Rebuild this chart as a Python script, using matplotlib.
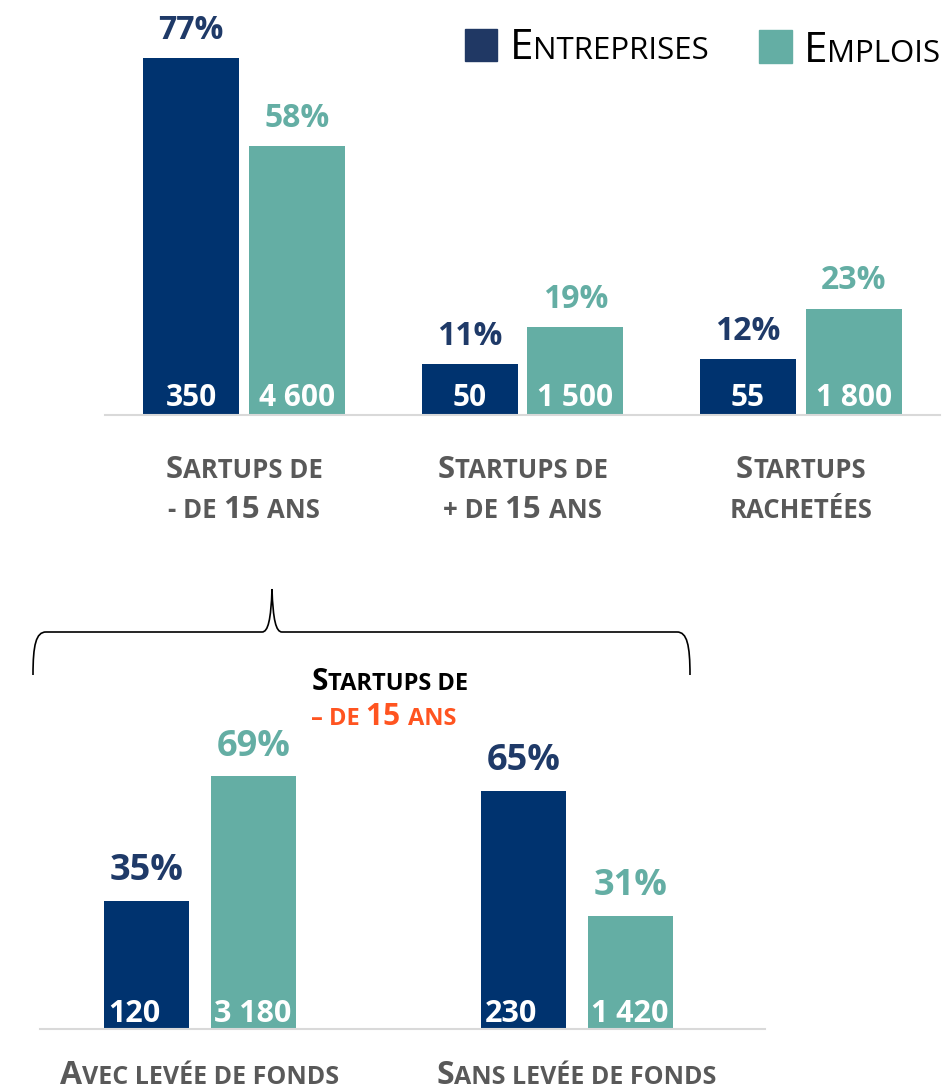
import matplotlib.pyplot as plt
from matplotlib.patches import Rectangle, PathPatch
from matplotlib.path import Path
from matplotlib.transforms import IdentityTransform

# data
top_groups = [["Sartups de", "- de 15 ans"], ["Startups de", "+ de 15 ans"], ["Startups", "rachetées"]]
top_pct_entreprises = [77, 11, 12]
top_pct_emplois = [58, 19, 23]
top_nb_entreprises = ["350", "50", "55"]
top_nb_emplois = ["4 600", "1 500", "1 800"]

bottom_groups = ["Avec levée de fonds", "Sans levée de fonds"]
bottom_pct_entreprises = [35, 65]
bottom_pct_emplois = [69, 31]
bottom_nb_entreprises = ["120", "230"]
bottom_nb_emplois = ["3 180", "1 420"]

series_names = ["Entreprises", "Emplois"]

NAVY = "#00336F"
NAVY_TXT = "#1F3A68"
TEAL = "#64AEA4"
GREY = "#595959"
ORANGE = "#FF5420"
FONT = "Open Sans"

W, H = 944, 1090
fig = plt.figure(figsize=(W / 100, H / 100), dpi=100)
renderer = fig.canvas.get_renderer()


def px_axes(left, top, right, bottom):
    return fig.add_axes([left / W, 1 - bottom / H, (right - left) / W, (bottom - top) / H])


def text_width(s, size, **kw):
    t1 = fig.text(0, 0, "H" + s + "H", fontsize=size, **kw)
    t2 = fig.text(0, 0, "HH", fontsize=size, **kw)
    w = t1.get_window_extent(renderer).width - t2.get_window_extent(renderer).width
    t1.remove()
    t2.remove()
    return w


def smallcaps(x, y, text, big, small, ha="center", **kw):
    # x in pixels, y = baseline in pixels from top
    runs = []
    for ch in text:
        if ch.islower():
            size, c = small, ch.upper()
        elif ch.isupper() or ch.isdigit():
            size, c = big, ch
        elif ch == " ":
            size, c = (runs[-1][1] if runs else small), ch
        else:
            size, c = small, ch
        if runs and runs[-1][1] == size:
            runs[-1][0] += c
        else:
            runs.append([c, size])
    widths = [text_width(s, size, **kw) for s, size in runs]
    x0 = x - sum(widths) / 2 if ha == "center" else x
    for (s, size), w in zip(runs, widths):
        fig.text(x0, H - y, s, fontsize=size, transform=IdentityTransform(),
                 ha="left", va="baseline", **kw)
        x0 += w


def style_axes(ax):
    for side in ["top", "left", "right"]:
        ax.spines[side].set_visible(False)
    ax.spines["bottom"].set_color("#D9D9D9")
    ax.spines["bottom"].set_linewidth(1.5)
    ax.set_xticks([])
    ax.set_yticks([])
    ax.patch.set_alpha(0)


# ---- top chart ----
ax1 = px_axes(105, 0, 940, 415)
style_axes(ax1)
ax1.set_xlim(-0.5, 2.5)
ax1.set_ylim(0, 415 / 4.63)
bw, off = 0.345, 0.19
for i in range(len(top_groups)):
    ax1.bar(i - off, top_pct_entreprises[i], bw, color=NAVY)
    ax1.bar(i + off, top_pct_emplois[i], bw, color=TEAL)
    ax1.annotate(f"{top_pct_entreprises[i]}%", (i - off, top_pct_entreprises[i]),
                 xytext=(0, 14), textcoords="offset points", ha="center", va="baseline",
                 fontsize=23, fontweight="bold", color=NAVY_TXT, family=FONT)
    ax1.annotate(f"{top_pct_emplois[i]}%", (i + off, top_pct_emplois[i]),
                 xytext=(0, 14), textcoords="offset points", ha="center", va="baseline",
                 fontsize=23, fontweight="bold", color=TEAL, family=FONT)
    ax1.annotate(top_nb_entreprises[i], (i - off, 0), xytext=(0, 6.5),
                 textcoords="offset points", ha="center", va="baseline",
                 fontsize=21.5, fontweight="bold", color="white", family=FONT)
    ax1.annotate(top_nb_emplois[i], (i + off, 0), xytext=(0, 6.5),
                 textcoords="offset points", ha="center", va="baseline",
                 fontsize=21.5, fontweight="bold", color="white", family=FONT)
    cx = ax1.transData.transform((i, 0))[0]
    smallcaps(cx, 478, top_groups[i][0], 22.5, 18.5, color=GREY, fontweight="bold", family=FONT)
    smallcaps(cx, 518, top_groups[i][1], 22.5, 18.5, color=GREY, fontweight="bold", family=FONT)

# legend
fig.add_artist(Rectangle((465, H - 61), 32, 32, color="#203864", transform=IdentityTransform()))
fig.add_artist(Rectangle((759, H - 63), 33, 33, color=TEAL, transform=IdentityTransform()))
smallcaps(510, 59, series_names[0], 30.5, 22.5, ha="left", color="black", family=FONT)
smallcaps(804, 62, series_names[1], 30.5, 22.5, ha="left", color="black", family=FONT)

# brace
verts = [(33, 675), (33, 645), (36, 632), (46, 632),
         (262, 632), (268, 632), (271, 620), (272, 589),
         (273, 620), (276, 632), (282, 632),
         (677, 632), (687, 632), (690, 645), (690, 675)]
codes = [Path.MOVETO, Path.CURVE4, Path.CURVE4, Path.CURVE4,
         Path.LINETO, Path.CURVE4, Path.CURVE4, Path.CURVE4,
         Path.CURVE4, Path.CURVE4, Path.CURVE4,
         Path.LINETO, Path.CURVE4, Path.CURVE4, Path.CURVE4]
verts = [(x, H - y) for x, y in verts]
fig.add_artist(PathPatch(Path(verts, codes), fill=False, lw=1.2, color="black",
                         transform=IdentityTransform()))
smallcaps(390, 690, "Startups de", 21.5, 17, color="black", fontweight="bold", family=FONT)
smallcaps(384, 725, "– de 15 ans", 21.5, 17, color=ORANGE, fontweight="bold", family=FONT)

# ---- bottom chart ----
ax2 = px_axes(40, 720, 765, 1029)
style_axes(ax2)
ax2.set_xlim(-0.424, 1.499)
ax2.set_ylim(0, 309 / 3.66)
bw2, off2 = 0.225, 0.142
for i in range(len(bottom_groups)):
    ax2.bar(i - off2, bottom_pct_entreprises[i], bw2, color=NAVY)
    ax2.bar(i + off2, bottom_pct_emplois[i], bw2, color=TEAL)
    ax2.annotate(f"{bottom_pct_entreprises[i]}%", (i - off2, bottom_pct_entreprises[i]),
                 xytext=(0, 15), textcoords="offset points", ha="center", va="baseline",
                 fontsize=26, fontweight="bold", color=NAVY_TXT, family=FONT)
    ax2.annotate(f"{bottom_pct_emplois[i]}%", (i + off2, bottom_pct_emplois[i]),
                 xytext=(0, 15), textcoords="offset points", ha="center", va="baseline",
                 fontsize=26, fontweight="bold", color=TEAL, family=FONT)
    ax2.annotate(bottom_nb_entreprises[i], (i - off2 - bw2 / 2, 0), xytext=(3, 5),
                 textcoords="offset points", ha="left", va="baseline",
                 fontsize=22, fontweight="bold", color="white", family=FONT)
    ax2.annotate(bottom_nb_emplois[i], (i + off2 - bw2 / 2, 0), xytext=(2, 5),
                 textcoords="offset points", ha="left", va="baseline",
                 fontsize=22, fontweight="bold", color="white", family=FONT)
    cx = ax2.transData.transform((i, 0))[0]
    smallcaps(cx, 1084, bottom_groups[i], 23, 18, color=GREY, fontweight="bold", family=FONT)

fig.savefig("out.png", dpi=100)
